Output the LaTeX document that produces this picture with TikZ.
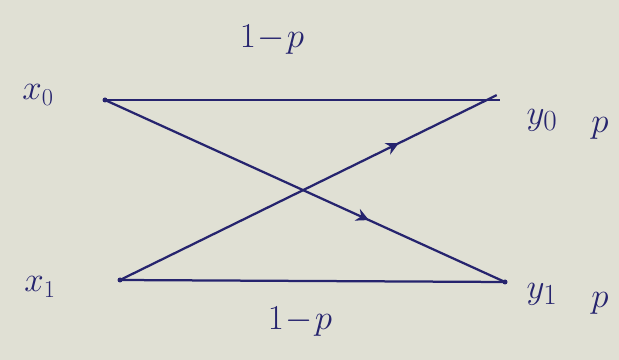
\documentclass[tikz,border=0pt]{standalone}
\usetikzlibrary{decorations.markings,arrows.meta}
\definecolor{paper}{RGB}{224,224,212}
\definecolor{ink}{RGB}{38,36,110}
\begin{document}
\begin{tikzpicture}[x=0.025cm,y=-0.025cm,
  wire/.style={draw=ink,line width=1.6pt},
  midarrow/.style={wire,postaction={decorate},decoration={markings,mark=at position #1 with {\arrow{Stealth[length=9pt,width=9pt]}}}},
  lab/.style={text=ink,font=\fontsize{24}{28}\selectfont,inner sep=0pt},
  biglab/.style={lab,font=\fontsize{28}{32}\selectfont},
  pt/.style={inner sep=0pt,minimum size=0pt}]
\fill[paper] (0,0) rectangle (619,360);
\useasboundingbox (0,0) rectangle (619,360);
\node[pt] (a0) at (105,100) {};
\node[pt] (b0) at (500,100) {};
\node[pt] (a1) at (120,280) {};
\node[pt] (b1) at (505,282) {};
\node[pt] (c0) at (497,95) {};
\draw[wire] (a0) -- (b0);
\draw[wire] (a1) -- (b1);
\draw[midarrow=0.66] (a0) -- (b1);
\draw[midarrow=0.74] (a1) -- (c0);
\fill[ink] (a0) circle (2.5);
\fill[ink] (a1) circle (2.5);
\fill[ink] (b1) circle (2.5);
\node[lab] (x0) at (38,95) {$x_0$};
\node[lab] (x1) at (40,287) {$x_1$};
\node[biglab] (y0) at (542,120) {$y_0$};
\node[biglab] (p0) at (600,128) {$p$};
\node[biglab] (y1) at (542,294) {$y_1$};
\node[biglab] (p1) at (600,303) {$p$};
\node[biglab] (t) at (272,40) {$1\!-\!p$};
\node[biglab] (b) at (300,322) {$1\!-\!p$};
\end{tikzpicture}
\end{document}
